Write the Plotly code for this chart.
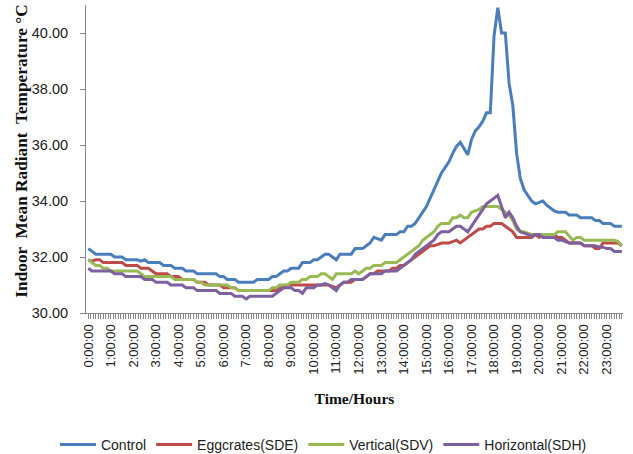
import plotly.graph_objects as go

# 10-minute samples from 0:00 to 23:40 (hours)
hours = [i / 6 for i in range(143)]
hour_ticks = list(range(24))
hour_labels = [f"{h}:00:00" for h in hour_ticks]

control = [
    32.3, 32.2, 32.1, 32.1, 32.1, 32.1,
    32.1, 32.0, 32.0, 32.0, 31.9, 31.9,
    31.9, 31.9, 31.85, 31.9, 31.8, 31.8,
    31.8, 31.8, 31.7, 31.7, 31.7, 31.6,
    31.6, 31.6, 31.5, 31.5, 31.5, 31.4,
    31.4, 31.4, 31.4, 31.4, 31.4, 31.3,
    31.3, 31.2, 31.2, 31.2, 31.1, 31.1,
    31.1, 31.1, 31.1, 31.2, 31.2, 31.2,
    31.2, 31.3, 31.3, 31.4, 31.5, 31.5,
    31.6, 31.6, 31.6, 31.8, 31.8, 31.8,
    31.9, 31.9, 32.0, 32.1, 32.1, 32.0,
    31.9, 32.1, 32.1, 32.1, 32.1, 32.3,
    32.3, 32.3, 32.4, 32.5, 32.7, 32.65,
    32.6, 32.8, 32.8, 32.8, 32.8, 32.9,
    32.9, 33.1, 33.1, 33.2, 33.4, 33.6,
    33.8, 34.1, 34.4, 34.7, 35.0, 35.2,
    35.4, 35.7, 35.95, 36.1, 35.85, 35.65,
    36.2, 36.5, 36.65, 36.85, 37.15, 37.15,
    39.9, 40.9, 40.0, 40.0, 38.2, 37.4,
    35.7, 34.8, 34.4, 34.2, 34.0, 33.9,
    33.95, 34.0, 33.85, 33.75, 33.65, 33.6,
    33.6, 33.6, 33.5, 33.5, 33.5, 33.4,
    33.4, 33.4, 33.4, 33.3, 33.3, 33.2,
    33.2, 33.2, 33.1, 33.1, 33.1,
]

eggcrates = [
    31.9, 31.85, 31.9, 31.9, 31.8, 31.8,
    31.8, 31.8, 31.8, 31.8, 31.7, 31.7,
    31.7, 31.7, 31.6, 31.6, 31.6, 31.5,
    31.4, 31.4, 31.4, 31.4, 31.3, 31.3,
    31.3, 31.2, 31.2, 31.2, 31.2, 31.1,
    31.1, 31.1, 31.0, 31.0, 31.0, 31.0,
    30.9, 30.9, 30.9, 30.9, 30.8, 30.8,
    30.8, 30.8, 30.8, 30.8, 30.8, 30.8,
    30.8, 30.8, 30.8, 30.9, 30.9, 31.0,
    31.0, 31.0, 31.0, 31.0, 31.0, 31.0,
    31.0, 31.0, 31.0, 31.0, 31.0, 30.95,
    30.9, 31.0, 31.1, 31.1, 31.1, 31.2,
    31.2, 31.2, 31.3, 31.4, 31.4, 31.5,
    31.5, 31.5, 31.5, 31.6, 31.6, 31.7,
    31.7, 31.8, 31.9, 32.0, 32.1, 32.2,
    32.3, 32.4, 32.4, 32.45, 32.5, 32.5,
    32.5, 32.55, 32.6, 32.5, 32.6, 32.7,
    32.8, 32.9, 33.0, 33.0, 33.1, 33.1,
    33.2, 33.2, 33.2, 33.1, 33.0, 32.9,
    32.7, 32.7, 32.7, 32.7, 32.7, 32.8,
    32.7, 32.8, 32.8, 32.8, 32.8, 32.7,
    32.7, 32.6, 32.5, 32.5, 32.5, 32.5,
    32.4, 32.4, 32.4, 32.3, 32.3, 32.5,
    32.5, 32.5, 32.5, 32.5, 32.4,
]

vertical = [
    31.9, 31.8, 31.7, 31.7, 31.6, 31.6,
    31.5, 31.5, 31.5, 31.5, 31.5, 31.5,
    31.5, 31.5, 31.4, 31.3, 31.3, 31.3,
    31.3, 31.3, 31.3, 31.3, 31.3, 31.2,
    31.2, 31.2, 31.2, 31.2, 31.2, 31.1,
    31.1, 31.0, 31.0, 31.0, 31.0, 31.0,
    31.0, 31.0, 30.9, 30.9, 30.8, 30.8,
    30.8, 30.8, 30.8, 30.8, 30.8, 30.8,
    30.8, 30.9, 30.9, 31.0, 31.0, 31.0,
    31.1, 31.1, 31.1, 31.2, 31.2, 31.3,
    31.3, 31.3, 31.4, 31.4, 31.3, 31.2,
    31.4, 31.4, 31.4, 31.4, 31.4, 31.5,
    31.4, 31.5, 31.6, 31.6, 31.7, 31.7,
    31.7, 31.8, 31.8, 31.8, 31.8, 31.9,
    32.0, 32.1, 32.2, 32.3, 32.4, 32.6,
    32.7, 32.8, 32.9, 33.1, 33.2, 33.2,
    33.2, 33.4, 33.4, 33.5, 33.4, 33.4,
    33.6, 33.65, 33.7, 33.8, 33.8, 33.8,
    33.8, 33.8, 33.7, 33.6, 33.5, 33.3,
    33.0, 32.9, 32.9, 32.85, 32.8, 32.8,
    32.8, 32.8, 32.8, 32.8, 32.8, 32.9,
    32.9, 32.9, 32.75, 32.6, 32.7, 32.7,
    32.6, 32.6, 32.6, 32.6, 32.6, 32.6,
    32.6, 32.6, 32.6, 32.55, 32.4,
]

horizontal = [
    31.6, 31.5, 31.5, 31.5, 31.5, 31.5,
    31.5, 31.4, 31.4, 31.4, 31.3, 31.3,
    31.3, 31.3, 31.3, 31.2, 31.2, 31.2,
    31.1, 31.1, 31.1, 31.1, 31.0, 31.0,
    31.0, 31.0, 30.9, 30.9, 30.9, 30.8,
    30.8, 30.8, 30.8, 30.8, 30.8, 30.7,
    30.7, 30.7, 30.7, 30.6, 30.6, 30.6,
    30.5, 30.6, 30.6, 30.6, 30.6, 30.6,
    30.6, 30.6, 30.7, 30.8, 30.9, 30.9,
    30.9, 30.8, 30.8, 30.7, 30.9, 30.9,
    30.9, 31.0, 31.0, 31.05, 31.0, 30.9,
    30.8, 31.0, 31.1, 31.1, 31.2, 31.2,
    31.2, 31.2, 31.3, 31.4, 31.4, 31.4,
    31.4, 31.5, 31.5, 31.5, 31.5, 31.6,
    31.7, 31.8, 31.9, 32.1, 32.2, 32.3,
    32.4, 32.5, 32.6, 32.8, 32.9, 32.9,
    32.9, 33.0, 33.1, 33.1, 33.0, 32.9,
    33.1, 33.3, 33.5, 33.7, 33.9, 34.0,
    34.1, 34.2, 33.8, 33.4, 33.6, 33.4,
    33.1, 32.9, 32.85, 32.8, 32.75, 32.8,
    32.8, 32.7, 32.7, 32.7, 32.7, 32.6,
    32.6, 32.55, 32.5, 32.5, 32.5, 32.5,
    32.4, 32.4, 32.4, 32.4, 32.35, 32.35,
    32.3, 32.3, 32.2, 32.2, 32.2,
]

series_names = ["Control", "Eggcrates(SDE)", "Vertical(SDV)", "Horizontal(SDH)"]
series_values = [control, eggcrates, vertical, horizontal]
series_colors = ["#4A7EBB", "#BE4B48", "#98B954", "#7D60A0"]

fig = go.Figure()
for name, vals, color in zip(series_names, series_values, series_colors):
    fig.add_trace(go.Scatter(x=hours, y=vals, mode="lines", name=name,
                             line=dict(color=color, width=3)))

axis_color = "#868686"
fig.update_layout(
    width=633, height=454,
    margin=dict(l=86, r=10, t=5, b=141, autoexpand=False),
    plot_bgcolor="white", paper_bgcolor="white",
    font=dict(family="Liberation Sans, Arial, sans-serif", size=14, color="#222"),
    showlegend=True,
    legend=dict(orientation="h", x=0.511, xanchor="center", xref="container",
                y=0.02, yanchor="middle", yref="container",
                font=dict(size=14, color="#222"), itemwidth=36,
                tracegroupgap=0),
    xaxis=dict(
        automargin=False,
        range=[-0.102, 23.72],
        tickmode="array", tickvals=hour_ticks, ticktext=hour_labels,
        tickangle=-90, tickfont=dict(size=13),
        ticks="outside", ticklen=5, tickcolor=axis_color,
        minor=dict(ticks="outside", ticklen=5, tickcolor=axis_color,
                   dtick=1/9, tick0=0, showgrid=False),
        showline=True, linecolor=axis_color, linewidth=1,
        showgrid=False, zeroline=False,
        title=dict(text="<b>Time/Hours</b>", standoff=19,
                   font=dict(family="Liberation Serif, Times New Roman, serif",
                             size=15.5, color="#111")),
    ),
    yaxis=dict(
        automargin=False,
        range=[30, 41], tickvals=[30, 32, 34, 36, 38, 40], tickformat=".2f",
        ticks="outside", ticklen=5, tickcolor=axis_color,
        ticklabelstandoff=9, tickfont=dict(size=14.5),
        showline=True, linecolor=axis_color, linewidth=1,
        showgrid=False, zeroline=False,
    ),
    annotations=[dict(
        text="<b>Indoor  Mean Radiant  Temperature °C</b>",
        textangle=-90, xref="paper", yref="paper",
        x=-0.119, y=0.524, xanchor="center", yanchor="middle", showarrow=False,
        font=dict(family="Liberation Serif, Times New Roman, serif", size=17.3, color="#111"),
    )],
)

fig.write_html("out.html", config={"displayModeBar": False},
               post_script="document.body.style.margin='0';document.body.style.padding='0';")
